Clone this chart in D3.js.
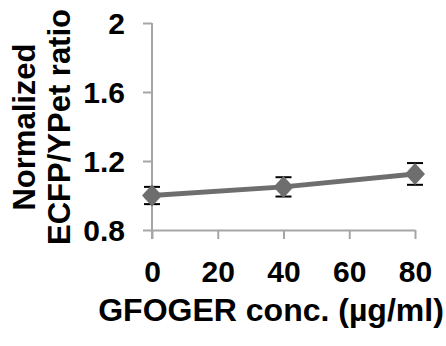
<!DOCTYPE html>
<html>
<head>
<meta charset="utf-8">
<script src="https://cdn.jsdelivr.net/npm/d3@7"></script>
<style>
  html, body { margin: 0; padding: 0; background: #fff; }
  svg text { font-family: "Liberation Sans", Arial, sans-serif; font-weight: bold; fill: #000; }
</style>
</head>
<body>
<svg id="chart" width="446" height="346"></svg>
<script>
// GFOGER concentration (µg/ml) and the normalized ECFP/YPet ratio
const concentrations = [0, 40, 80];
const ratios = [1.00, 1.05, 1.125];
const errors = [0.05, 0.056, 0.063];
const xTicks = [0, 20, 40, 60, 80];
const yTicks = [0.8, 1.2, 1.6, 2];

const svg = d3.select("#chart");
const axisColor = "#a6a6a6";
const lineColor = "#6e6e6e";

const x = d3.scaleLinear().domain([0, 80]).range([152, 415]);
const y = d3.scaleLinear().domain([0.8, 2]).range([230, 23]);

// x axis
const xAxis = svg.append("g").attr("transform", "translate(0,230)")
  .call(d3.axisBottom(x).tickValues(xTicks).tickSize(9).tickSizeOuter(0).tickPadding(22)
    .tickFormat(d3.format("d")));
xAxis.select(".domain").attr("stroke", axisColor).attr("stroke-width", 2);
xAxis.selectAll(".tick line").attr("stroke", axisColor).attr("stroke-width", 2);
xAxis.selectAll(".tick text").attr("font-size", 30).attr("dy", "0.71em");

// y axis
const yAxis = svg.append("g").attr("transform", "translate(152,0)")
  .call(d3.axisLeft(y).tickValues(yTicks).tickSize(9).tickSizeOuter(0).tickPadding(18)
    .tickFormat(d => d === 2 ? "2" : d3.format(".1f")(d)));
yAxis.select(".domain").attr("stroke", axisColor).attr("stroke-width", 2)
  .attr("d", `M0,${y(2)}V239`);
yAxis.selectAll(".tick line").attr("stroke", axisColor).attr("stroke-width", 2);
yAxis.selectAll(".tick text").attr("font-size", 30).attr("dy", "0.35em");

// axis titles
svg.append("text")
  .attr("x", 271).attr("y", 321)
  .attr("text-anchor", "middle")
  .attr("font-size", 32)
  .text("GFOGER conc. (µg/ml)");

const yTitle = svg.append("text")
  .attr("transform", "translate(0,127) rotate(-90)")
  .attr("text-anchor", "middle")
  .attr("font-size", 31);
yTitle.append("tspan").attr("x", 0).attr("y", 35).text("Normalized");
yTitle.append("tspan").attr("x", 0).attr("y", 70).text("ECFP/YPet ratio");

const data = concentrations.map((c, i) => ({ c, v: ratios[i], e: errors[i] }));

// connecting line
svg.append("path")
  .datum(data)
  .attr("fill", "none")
  .attr("stroke", lineColor)
  .attr("stroke-width", 5)
  .attr("d", d3.line().x(d => x(d.c)).y(d => y(d.v)));

// error bars
const eb = svg.append("g").attr("stroke", "#000").attr("stroke-width", 2);
data.forEach(d => {
  const cx = x(d.c), top = y(d.v + d.e), bot = y(d.v - d.e);
  eb.append("line").attr("x1", cx).attr("x2", cx).attr("y1", top).attr("y2", bot);
  eb.append("line").attr("x1", cx - 8).attr("x2", cx + 8).attr("y1", top).attr("y2", top);
  eb.append("line").attr("x1", cx - 8).attr("x2", cx + 8).attr("y1", bot).attr("y2", bot);
});

// diamond markers
svg.append("g").selectAll("path")
  .data(data)
  .join("path")
  .attr("transform", d => `translate(${x(d.c)},${y(d.v)})`)
  .attr("d", "M0,-11L10,0L0,11L-10,0Z")
  .attr("fill", lineColor);
</script>
</body>
</html>
